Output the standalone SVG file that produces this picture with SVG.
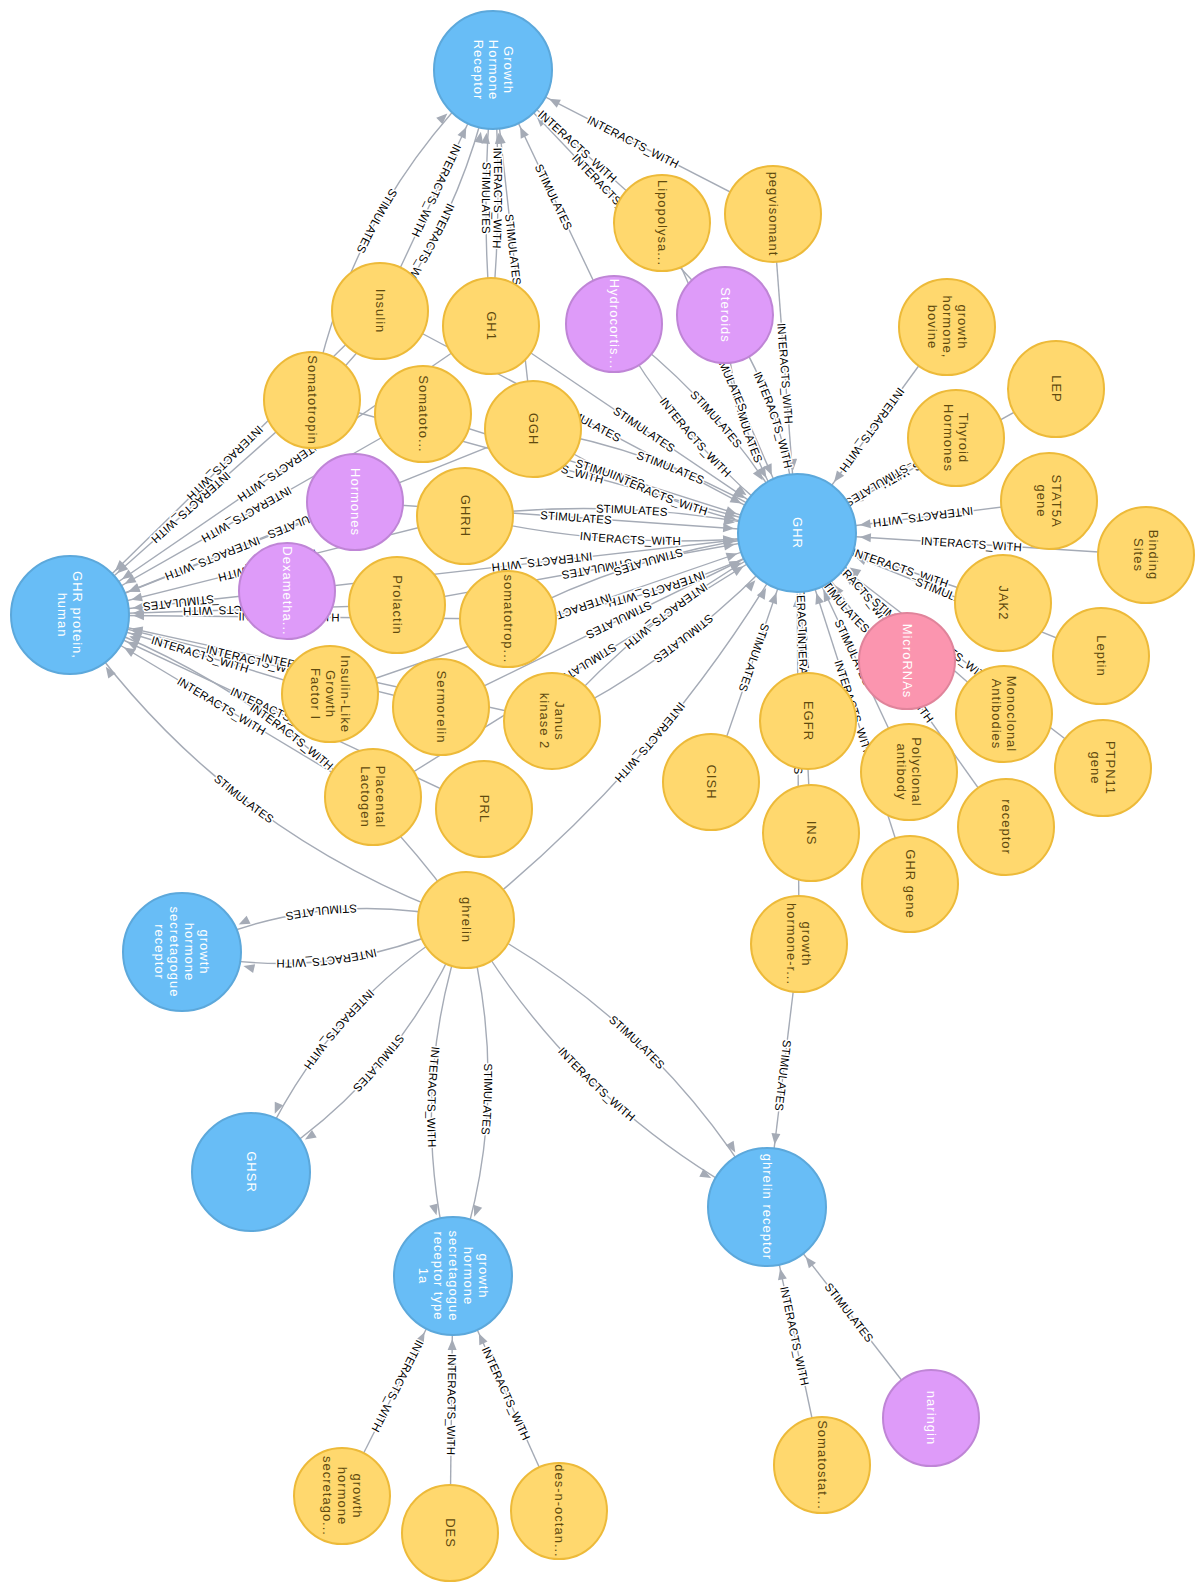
<svg xmlns="http://www.w3.org/2000/svg" width="1197" height="1582" viewBox="0 0 1197 1582">
<style>
.e{fill:none;stroke:#A5ABB6;stroke-width:1.4;marker-end:url(#arr)}
.l{font-family:"Liberation Sans",Arial,sans-serif;font-size:11.5px;fill:#000;stroke:#fff;stroke-width:3px;paint-order:stroke;stroke-linejoin:round;text-anchor:middle}
.n text{font-family:"Liberation Sans",Arial,sans-serif;font-size:13px;letter-spacing:1px;text-anchor:middle}
.b circle{fill:#68BDF6;stroke:#5CA8DB;stroke-width:2}
.b text{fill:#fff}
.y circle{fill:#FFD86E;stroke:#EDBA39;stroke-width:2}
.y text{fill:#604A0E}
.p circle{fill:#DE9BF9;stroke:#BF85D6;stroke-width:2}
.p text{fill:#fff}
.k circle{fill:#FB95AF;stroke:#E0849B;stroke-width:2}
.k text{fill:#fff}
</style>
<defs>
<marker id="arr" markerUnits="userSpaceOnUse" orient="auto" markerWidth="10" markerHeight="10" refX="0" refY="0" overflow="visible" style="overflow:visible"><path d="M-63 0 L-74 -4.5 L-74 4.5 Z" fill="#A5ABB6"/></marker>
<path id="r1" d="M493 70 Q350 206 312 400"/>
<path id="r2" d="M493 70 Q455 264 312 400"/>
<path id="r3" d="M493 70 L380 311"/>
<path id="r4" d="M493 70 Q480 198 491 326"/>
<path id="r5" d="M493 70 Q504 198 491 326"/>
<path id="r6" d="M493 70 L533 429"/>
<path id="r7" d="M493 70 L614 324"/>
<path id="r8" d="M493 70 L662 223"/>
<path id="r9" d="M493 70 L725 315"/>
<path id="r10" d="M493 70 L773 214"/>
<path id="r20" d="M70 615 L508 619"/>
<path id="r21" d="M70 615 L330 694"/>
<path id="r22" d="M70 615 L441 707"/>
<path id="r23" d="M70 615 L373 797"/>
<path id="r24" d="M70 615 L484 809"/>
<path id="r25" d="M70 615 Q219 831 466 920"/>
<path id="r26" d="M70 615 Q317 704 466 920"/>
<path id="r27" d="M70 615 L552 721"/>
<path id="r43" d="M797 533 L287 591"/>
<path id="r44" d="M797 533 L397 605"/>
<path id="r45" d="M797 533 Q644 547 508 619"/>
<path id="r46" d="M797 533 Q661 605 508 619"/>
<path id="r47" d="M797 533 L330 694"/>
<path id="r48" d="M797 533 L441 707"/>
<path id="r49" d="M797 533 Q656 603 552 721"/>
<path id="r50" d="M797 533 Q693 651 552 721"/>
<path id="r51" d="M797 533 Q670 759 466 920"/>
<path id="r52" d="M797 533 L711 782"/>
<path id="r53" d="M797 533 L373 797"/>
<path id="r58" d="M797 533 L1146 555"/>
<path id="r59" d="M797 533 L1003 603"/>
<path id="r60" d="M797 533 L1101 656"/>
<path id="r61" d="M797 533 Q870 581 907 661"/>
<path id="r62" d="M797 533 Q834 613 907 661"/>
<path id="r63" d="M797 533 L1004 714"/>
<path id="r64" d="M797 533 L1103 768"/>
<path id="r65" d="M797 533 L808 721"/>
<path id="r66" d="M797 533 L909 772"/>
<path id="r67" d="M797 533 L1006 827"/>
<path id="r68" d="M797 533 L910 884"/>
<path id="r69" d="M797 533 L811 833"/>
<path id="r70" d="M797 533 L799 944"/>
<path id="r80" d="M767 1207 L822 1465"/>
<path id="r81" d="M767 1207 L931 1418"/>
<path id="r82" d="M453 1276 L342 1496"/>
<path id="r83" d="M453 1276 L450 1533"/>
<path id="r84" d="M453 1276 L559 1511"/>
</defs>
<rect width="1197" height="1582" fill="#fff"/>
<g id="connectors">
<path id="e1" class="e" d="M312 400 Q350 206 493 70"/>
<path id="e2" class="e" d="M312 400 Q455 264 493 70"/>
<path id="e3" class="e" d="M380 311 L493 70"/>
<path id="e4" class="e" d="M491 326 Q480 198 493 70"/>
<path id="e5" class="e" d="M491 326 Q504 198 493 70"/>
<path id="e6" class="e" d="M533 429 L493 70"/>
<path id="e7" class="e" d="M614 324 L493 70"/>
<path id="e8" class="e" d="M662 223 L493 70"/>
<path id="e9" class="e" d="M725 315 L493 70"/>
<path id="e10" class="e" d="M773 214 L493 70"/>
<path id="e11" class="e" d="M380 311 L70 615"/>
<path id="e12" class="e" d="M312 400 L70 615"/>
<path id="e13" class="e" d="M491 326 L70 615"/>
<path id="e14" class="e" d="M423 414 L70 615"/>
<path id="e15" class="e" d="M533 429 L70 615"/>
<path id="e16" class="e" d="M355 502 L70 615"/>
<path id="e17" class="e" d="M465 516 L70 615"/>
<path id="e18" class="e" d="M287 591 L70 615"/>
<path id="e19" class="e" d="M397 605 L70 615"/>
<path id="e20" class="e" d="M508 619 L70 615"/>
<path id="e21" class="e" d="M330 694 L70 615"/>
<path id="e22" class="e" d="M441 707 L70 615"/>
<path id="e23" class="e" d="M373 797 L70 615"/>
<path id="e24" class="e" d="M484 809 L70 615"/>
<path id="e25" class="e" d="M466 920 Q219 831 70 615"/>
<path id="e26" class="e" d="M466 920 Q317 704 70 615"/>
<path id="e27" class="e" d="M552 721 L70 615"/>
<path id="e28" class="e" d="M380 311 L797 533"/>
<path id="e29" class="e" d="M312 400 L797 533"/>
<path id="e30" class="e" d="M491 326 L797 533"/>
<path id="e31" class="e" d="M614 324 Q683 448 797 533"/>
<path id="e32" class="e" d="M614 324 Q728 409 797 533"/>
<path id="e33" class="e" d="M725 315 Q732 433 797 533"/>
<path id="e34" class="e" d="M725 315 Q790 415 797 533"/>
<path id="e35" class="e" d="M662 223 L797 533"/>
<path id="e36" class="e" d="M773 214 L797 533"/>
<path id="e37" class="e" d="M423 414 L797 533"/>
<path id="e38" class="e" d="M533 429 Q654 509 797 533"/>
<path id="e39" class="e" d="M533 429 Q676 453 797 533"/>
<path id="e40" class="e" d="M355 502 L797 533"/>
<path id="e41" class="e" d="M465 516 Q632 495 797 533"/>
<path id="e42" class="e" d="M465 516 Q630 555 797 533"/>
<path id="e43" class="e" d="M287 591 L797 533"/>
<path id="e44" class="e" d="M397 605 L797 533"/>
<path id="e45" class="e" d="M508 619 Q644 547 797 533"/>
<path id="e46" class="e" d="M508 619 Q661 605 797 533"/>
<path id="e47" class="e" d="M330 694 L797 533"/>
<path id="e48" class="e" d="M441 707 L797 533"/>
<path id="e49" class="e" d="M552 721 Q656 603 797 533"/>
<path id="e50" class="e" d="M552 721 Q693 651 797 533"/>
<path id="e51" class="e" d="M466 920 Q670 759 797 533"/>
<path id="e52" class="e" d="M711 782 L797 533"/>
<path id="e53" class="e" d="M373 797 L797 533"/>
<path id="e54" class="e" d="M947 327 L797 533"/>
<path id="e55" class="e" d="M1056 389 L797 533"/>
<path id="e56" class="e" d="M956 438 L797 533"/>
<path id="e57" class="e" d="M1049 501 L797 533"/>
<path id="e58" class="e" d="M1146 555 L797 533"/>
<path id="e59" class="e" d="M1003 603 L797 533"/>
<path id="e60" class="e" d="M1101 656 L797 533"/>
<path id="e61" class="e" d="M907 661 Q870 581 797 533"/>
<path id="e62" class="e" d="M907 661 Q834 613 797 533"/>
<path id="e63" class="e" d="M1004 714 L797 533"/>
<path id="e64" class="e" d="M1103 768 L797 533"/>
<path id="e65" class="e" d="M808 721 L797 533"/>
<path id="e66" class="e" d="M909 772 L797 533"/>
<path id="e67" class="e" d="M1006 827 L797 533"/>
<path id="e68" class="e" d="M910 884 L797 533"/>
<path id="e69" class="e" d="M811 833 L797 533"/>
<path id="e70" class="e" d="M799 944 L797 533"/>
<path id="e71" class="e" d="M466 920 Q318 886 182 952"/>
<path id="e72" class="e" d="M466 920 Q330 986 182 952"/>
<path id="e73" class="e" d="M466 920 Q317 1010 251 1172"/>
<path id="e74" class="e" d="M466 920 Q400 1082 251 1172"/>
<path id="e75" class="e" d="M466 920 Q404 1096 453 1276"/>
<path id="e76" class="e" d="M466 920 Q516 1100 453 1276"/>
<path id="e77" class="e" d="M466 920 Q658 1020 767 1207"/>
<path id="e78" class="e" d="M466 920 Q575 1107 767 1207"/>
<path id="e79" class="e" d="M799 944 L767 1207"/>
<path id="e80" class="e" d="M822 1465 L767 1207"/>
<path id="e81" class="e" d="M931 1418 L767 1207"/>
<path id="e82" class="e" d="M342 1496 L453 1276"/>
<path id="e83" class="e" d="M450 1533 L453 1276"/>
<path id="e84" class="e" d="M559 1511 L453 1276"/>
<text class="l" dy="4"><textPath href="#r1" startOffset="50%">STIMULATES</textPath></text>
<text class="l" dy="4"><textPath href="#r2" startOffset="50%">INTERACTS_WITH</textPath></text>
<text class="l" dy="4"><textPath href="#r3" startOffset="50%">INTERACTS_WITH</textPath></text>
<text class="l" dy="4"><textPath href="#r4" startOffset="50%">STIMULATES</textPath></text>
<text class="l" dy="4"><textPath href="#r5" startOffset="50%">INTERACTS_WITH</textPath></text>
<text class="l" dy="4"><textPath href="#r6" startOffset="50%">STIMULATES</textPath></text>
<text class="l" dy="4"><textPath href="#r7" startOffset="50%">STIMULATES</textPath></text>
<text class="l" dy="4"><textPath href="#r8" startOffset="50%">INTERACTS_WITH</textPath></text>
<text class="l" dy="4"><textPath href="#r9" startOffset="50%">INTERACTS_WITH</textPath></text>
<text class="l" dy="4"><textPath href="#r10" startOffset="50%">INTERACTS_WITH</textPath></text>
<text class="l" dy="4"><textPath href="#e11" startOffset="50%">INTERACTS_WITH</textPath></text>
<text class="l" dy="4"><textPath href="#e12" startOffset="50%">INTERACTS_WITH</textPath></text>
<text class="l" dy="4"><textPath href="#e13" startOffset="50%">INTERACTS_WITH</textPath></text>
<text class="l" dy="4"><textPath href="#e14" startOffset="50%">INTERACTS_WITH</textPath></text>
<text class="l" dy="4"><textPath href="#e15" startOffset="50%">STIMULATES</textPath></text>
<text class="l" dy="4"><textPath href="#e16" startOffset="50%">INTERACTS_WITH</textPath></text>
<text class="l" dy="4"><textPath href="#e17" startOffset="50%">INTERACTS_WITH</textPath></text>
<text class="l" dy="4"><textPath href="#e18" startOffset="50%">STIMULATES</textPath></text>
<text class="l" dy="4"><textPath href="#e19" startOffset="50%">INTERACTS_WITH</textPath></text>
<text class="l" dy="4"><textPath href="#r20" startOffset="50%">INTERACTS_WITH</textPath></text>
<text class="l" dy="4"><textPath href="#r21" startOffset="50%">INTERACTS_WITH</textPath></text>
<text class="l" dy="4"><textPath href="#r22" startOffset="50%">INTERACTS_WITH</textPath></text>
<text class="l" dy="4"><textPath href="#r23" startOffset="50%">INTERACTS_WITH</textPath></text>
<text class="l" dy="4"><textPath href="#r24" startOffset="50%">INTERACTS_WITH</textPath></text>
<text class="l" dy="4"><textPath href="#r25" startOffset="50%">STIMULATES</textPath></text>
<text class="l" dy="4"><textPath href="#r26" startOffset="50%">INTERACTS_WITH</textPath></text>
<text class="l" dy="4"><textPath href="#r27" startOffset="50%">INTERACTS_WITH</textPath></text>
<text class="l" dy="4"><textPath href="#e28" startOffset="50%">STIMULATES</textPath></text>
<text class="l" dy="4"><textPath href="#e29" startOffset="50%">INTERACTS_WITH</textPath></text>
<text class="l" dy="4"><textPath href="#e30" startOffset="50%">STIMULATES</textPath></text>
<text class="l" dy="4"><textPath href="#e31" startOffset="50%">INTERACTS_WITH</textPath></text>
<text class="l" dy="4"><textPath href="#e32" startOffset="50%">STIMULATES</textPath></text>
<text class="l" dy="4"><textPath href="#e33" startOffset="50%">STIMULATES</textPath></text>
<text class="l" dy="4"><textPath href="#e34" startOffset="50%">INTERACTS_WITH</textPath></text>
<text class="l" dy="4"><textPath href="#e35" startOffset="50%">STIMULATES</textPath></text>
<text class="l" dy="4"><textPath href="#e36" startOffset="50%">INTERACTS_WITH</textPath></text>
<text class="l" dy="4"><textPath href="#e37" startOffset="50%">STIMULATES</textPath></text>
<text class="l" dy="4"><textPath href="#e38" startOffset="50%">INTERACTS_WITH</textPath></text>
<text class="l" dy="4"><textPath href="#e39" startOffset="50%">STIMULATES</textPath></text>
<text class="l" dy="4"><textPath href="#e40" startOffset="50%">STIMULATES</textPath></text>
<text class="l" dy="4"><textPath href="#e41" startOffset="50%">STIMULATES</textPath></text>
<text class="l" dy="4"><textPath href="#e42" startOffset="50%">INTERACTS_WITH</textPath></text>
<text class="l" dy="4"><textPath href="#r43" startOffset="50%">INTERACTS_WITH</textPath></text>
<text class="l" dy="4"><textPath href="#r44" startOffset="50%">STIMULATES</textPath></text>
<text class="l" dy="4"><textPath href="#r45" startOffset="50%">STIMULATES</textPath></text>
<text class="l" dy="4"><textPath href="#r46" startOffset="50%">INTERACTS_WITH</textPath></text>
<text class="l" dy="4"><textPath href="#r47" startOffset="50%">INTERACTS_WITH</textPath></text>
<text class="l" dy="4"><textPath href="#r48" startOffset="50%">STIMULATES</textPath></text>
<text class="l" dy="4"><textPath href="#r49" startOffset="50%">INTERACTS_WITH</textPath></text>
<text class="l" dy="4"><textPath href="#r50" startOffset="50%">STIMULATES</textPath></text>
<text class="l" dy="4"><textPath href="#r51" startOffset="50%">INTERACTS_WITH</textPath></text>
<text class="l" dy="4"><textPath href="#r52" startOffset="50%">STIMULATES</textPath></text>
<text class="l" dy="4"><textPath href="#r53" startOffset="50%">STIMULATES</textPath></text>
<text class="l" dy="4"><textPath href="#e54" startOffset="50%">INTERACTS_WITH</textPath></text>
<text class="l" dy="4"><textPath href="#e55" startOffset="50%">INTERACTS_WITH</textPath></text>
<text class="l" dy="4"><textPath href="#e56" startOffset="50%">STIMULATES</textPath></text>
<text class="l" dy="4"><textPath href="#e57" startOffset="50%">INTERACTS_WITH</textPath></text>
<text class="l" dy="4"><textPath href="#r58" startOffset="50%">INTERACTS_WITH</textPath></text>
<text class="l" dy="4"><textPath href="#r59" startOffset="50%">INTERACTS_WITH</textPath></text>
<text class="l" dy="4"><textPath href="#r60" startOffset="50%">STIMULATES</textPath></text>
<text class="l" dy="4"><textPath href="#r61" startOffset="50%">INTERACTS_WITH</textPath></text>
<text class="l" dy="4"><textPath href="#r62" startOffset="50%">STIMULATES</textPath></text>
<text class="l" dy="4"><textPath href="#r63" startOffset="50%">STIMULATES</textPath></text>
<text class="l" dy="4"><textPath href="#r64" startOffset="50%">INTERACTS_WITH</textPath></text>
<text class="l" dy="4"><textPath href="#r65" startOffset="50%">INTERACTS_WITH</textPath></text>
<text class="l" dy="4"><textPath href="#r66" startOffset="50%">STIMULATES</textPath></text>
<text class="l" dy="4"><textPath href="#r67" startOffset="50%">INTERACTS_WITH</textPath></text>
<text class="l" dy="4"><textPath href="#r68" startOffset="50%">INTERACTS_WITH</textPath></text>
<text class="l" dy="4"><textPath href="#r69" startOffset="50%">INTERACTS_WITH</textPath></text>
<text class="l" dy="4"><textPath href="#r70" startOffset="50%">STIMULATES</textPath></text>
<text class="l" dy="4"><textPath href="#e71" startOffset="50%">STIMULATES</textPath></text>
<text class="l" dy="4"><textPath href="#e72" startOffset="50%">INTERACTS_WITH</textPath></text>
<text class="l" dy="4"><textPath href="#e73" startOffset="50%">INTERACTS_WITH</textPath></text>
<text class="l" dy="4"><textPath href="#e74" startOffset="50%">STIMULATES</textPath></text>
<text class="l" dy="4"><textPath href="#e75" startOffset="50%">INTERACTS_WITH</textPath></text>
<text class="l" dy="4"><textPath href="#e76" startOffset="50%">STIMULATES</textPath></text>
<text class="l" dy="4"><textPath href="#e77" startOffset="50%">STIMULATES</textPath></text>
<text class="l" dy="4"><textPath href="#e78" startOffset="50%">INTERACTS_WITH</textPath></text>
<text class="l" dy="4"><textPath href="#e79" startOffset="50%">STIMULATES</textPath></text>
<text class="l" dy="4"><textPath href="#r80" startOffset="50%">INTERACTS_WITH</textPath></text>
<text class="l" dy="4"><textPath href="#r81" startOffset="50%">STIMULATES</textPath></text>
<text class="l" dy="4"><textPath href="#r82" startOffset="50%">INTERACTS_WITH</textPath></text>
<text class="l" dy="4"><textPath href="#r83" startOffset="50%">INTERACTS_WITH</textPath></text>
<text class="l" dy="4"><textPath href="#r84" startOffset="50%">INTERACTS_WITH</textPath></text>
</g>
<g id="nodes">
<g id="n-growth-hormone-receptor" class="n b"><circle cx="493" cy="70" r="59"/><text transform="rotate(90 493 70)"><tspan x="493" y="59.5">Growth</tspan><tspan x="493" y="74.5">Hormone</tspan><tspan x="493" y="89.5">Receptor</tspan></text></g>
<g id="n-ghr" class="n b"><circle cx="797" cy="533" r="59"/><text transform="rotate(90 797 533)"><tspan x="797" y="537.5">GHR</tspan></text></g>
<g id="n-ghr-protein-human" class="n b"><circle cx="70" cy="615" r="59"/><text transform="rotate(90 70 615)"><tspan x="70" y="612">GHR protein,</tspan><tspan x="70" y="627">human</tspan></text></g>
<g id="n-ghs-receptor" class="n b"><circle cx="182" cy="952" r="59"/><text transform="rotate(90 182 952)"><tspan x="182" y="934">growth</tspan><tspan x="182" y="949">hormone</tspan><tspan x="182" y="964">secretagogue</tspan><tspan x="182" y="979">receptor</tspan></text></g>
<g id="n-ghsr" class="n b"><circle cx="251" cy="1172" r="59"/><text transform="rotate(90 251 1172)"><tspan x="251" y="1176.5">GHSR</tspan></text></g>
<g id="n-ghsr-1a" class="n b"><circle cx="453" cy="1276" r="59"/><text transform="rotate(90 453 1276)"><tspan x="453" y="1250.5">growth</tspan><tspan x="453" y="1265.5">hormone</tspan><tspan x="453" y="1280.5">secretagogue</tspan><tspan x="453" y="1295.5">receptor type</tspan><tspan x="453" y="1310.5">1a</tspan></text></g>
<g id="n-ghrelin-receptor" class="n b"><circle cx="767" cy="1207" r="59"/><text transform="rotate(90 767 1207)"><tspan x="767" y="1211.5">ghrelin receptor</tspan></text></g>
<g id="n-insulin" class="n y"><circle cx="380" cy="311" r="48"/><text transform="rotate(90 380 311)"><tspan x="380" y="315.5">Insulin</tspan></text></g>
<g id="n-somatotropin" class="n y"><circle cx="312" cy="400" r="48"/><text transform="rotate(90 312 400)"><tspan x="312" y="404.5">Somatotropin</tspan></text></g>
<g id="n-gh1" class="n y"><circle cx="491" cy="326" r="48"/><text transform="rotate(90 491 326)"><tspan x="491" y="330.5">GH1</tspan></text></g>
<g id="n-lipopolysa" class="n y"><circle cx="662" cy="223" r="48"/><text transform="rotate(90 662 223)"><tspan x="662" y="227.5">Lipopolysa...</tspan></text></g>
<g id="n-pegvisomant" class="n y"><circle cx="773" cy="214" r="48"/><text transform="rotate(90 773 214)"><tspan x="773" y="218.5">pegvisomant</tspan></text></g>
<g id="n-gh-bovine" class="n y"><circle cx="947" cy="327" r="48"/><text transform="rotate(90 947 327)"><tspan x="947" y="316.5">growth</tspan><tspan x="947" y="331.5">hormone,</tspan><tspan x="947" y="346.5">bovine</tspan></text></g>
<g id="n-lep" class="n y"><circle cx="1056" cy="389" r="48"/><text transform="rotate(90 1056 389)"><tspan x="1056" y="393.5">LEP</tspan></text></g>
<g id="n-thyroid" class="n y"><circle cx="956" cy="438" r="48"/><text transform="rotate(90 956 438)"><tspan x="956" y="435">Thyroid</tspan><tspan x="956" y="450">Hormones</tspan></text></g>
<g id="n-stat5a" class="n y"><circle cx="1049" cy="501" r="48"/><text transform="rotate(90 1049 501)"><tspan x="1049" y="498">STAT5A</tspan><tspan x="1049" y="513">gene</tspan></text></g>
<g id="n-binding-sites" class="n y"><circle cx="1146" cy="555" r="48"/><text transform="rotate(90 1146 555)"><tspan x="1146" y="552">Binding</tspan><tspan x="1146" y="567">Sites</tspan></text></g>
<g id="n-jak2" class="n y"><circle cx="1003" cy="603" r="48"/><text transform="rotate(90 1003 603)"><tspan x="1003" y="607.5">JAK2</tspan></text></g>
<g id="n-leptin" class="n y"><circle cx="1101" cy="656" r="48"/><text transform="rotate(90 1101 656)"><tspan x="1101" y="660.5">Leptin</tspan></text></g>
<g id="n-monoclonal" class="n y"><circle cx="1004" cy="714" r="48"/><text transform="rotate(90 1004 714)"><tspan x="1004" y="711">Monoclonal</tspan><tspan x="1004" y="726">Antibodies</tspan></text></g>
<g id="n-ptpn11" class="n y"><circle cx="1103" cy="768" r="48"/><text transform="rotate(90 1103 768)"><tspan x="1103" y="765">PTPN11</tspan><tspan x="1103" y="780">gene</tspan></text></g>
<g id="n-egfr" class="n y"><circle cx="808" cy="721" r="48"/><text transform="rotate(90 808 721)"><tspan x="808" y="725.5">EGFR</tspan></text></g>
<g id="n-polyclonal" class="n y"><circle cx="909" cy="772" r="48"/><text transform="rotate(90 909 772)"><tspan x="909" y="769">Polyclonal</tspan><tspan x="909" y="784">antibody</tspan></text></g>
<g id="n-receptor" class="n y"><circle cx="1006" cy="827" r="48"/><text transform="rotate(90 1006 827)"><tspan x="1006" y="831.5">receptor</tspan></text></g>
<g id="n-ghr-gene" class="n y"><circle cx="910" cy="884" r="48"/><text transform="rotate(90 910 884)"><tspan x="910" y="888.5">GHR gene</tspan></text></g>
<g id="n-ins" class="n y"><circle cx="811" cy="833" r="48"/><text transform="rotate(90 811 833)"><tspan x="811" y="837.5">INS</tspan></text></g>
<g id="n-gh-r" class="n y"><circle cx="799" cy="944" r="48"/><text transform="rotate(90 799 944)"><tspan x="799" y="941">growth</tspan><tspan x="799" y="956">hormone-r...</tspan></text></g>
<g id="n-cish" class="n y"><circle cx="711" cy="782" r="48"/><text transform="rotate(90 711 782)"><tspan x="711" y="786.5">CISH</tspan></text></g>
<g id="n-janus" class="n y"><circle cx="552" cy="721" r="48"/><text transform="rotate(90 552 721)"><tspan x="552" y="718">Janus</tspan><tspan x="552" y="733">kinase 2</tspan></text></g>
<g id="n-sermorelin" class="n y"><circle cx="441" cy="707" r="48"/><text transform="rotate(90 441 707)"><tspan x="441" y="711.5">Sermorelin</tspan></text></g>
<g id="n-somatotrop" class="n y"><circle cx="508" cy="619" r="48"/><text transform="rotate(90 508 619)"><tspan x="508" y="623.5">somatotrop...</tspan></text></g>
<g id="n-ghrh" class="n y"><circle cx="465" cy="516" r="48"/><text transform="rotate(90 465 516)"><tspan x="465" y="520.5">GHRH</tspan></text></g>
<g id="n-ggh" class="n y"><circle cx="533" cy="429" r="48"/><text transform="rotate(90 533 429)"><tspan x="533" y="433.5">GGH</tspan></text></g>
<g id="n-somatoto" class="n y"><circle cx="423" cy="414" r="48"/><text transform="rotate(90 423 414)"><tspan x="423" y="418.5">Somatoto...</tspan></text></g>
<g id="n-prolactin" class="n y"><circle cx="397" cy="605" r="48"/><text transform="rotate(90 397 605)"><tspan x="397" y="609.5">Prolactin</tspan></text></g>
<g id="n-igf1" class="n y"><circle cx="330" cy="694" r="48"/><text transform="rotate(90 330 694)"><tspan x="330" y="683.5">Insulin-Like</tspan><tspan x="330" y="698.5">Growth</tspan><tspan x="330" y="713.5">Factor I</tspan></text></g>
<g id="n-placental" class="n y"><circle cx="373" cy="797" r="48"/><text transform="rotate(90 373 797)"><tspan x="373" y="794">Placental</tspan><tspan x="373" y="809">Lactogen</tspan></text></g>
<g id="n-prl" class="n y"><circle cx="484" cy="809" r="48"/><text transform="rotate(90 484 809)"><tspan x="484" y="813.5">PRL</tspan></text></g>
<g id="n-ghrelin" class="n y"><circle cx="466" cy="920" r="48"/><text transform="rotate(90 466 920)"><tspan x="466" y="924.5">ghrelin</tspan></text></g>
<g id="n-ghs-yellow" class="n y"><circle cx="342" cy="1496" r="48"/><text transform="rotate(90 342 1496)"><tspan x="342" y="1485.5">growth</tspan><tspan x="342" y="1500.5">hormone</tspan><tspan x="342" y="1515.5">secretago...</tspan></text></g>
<g id="n-des" class="n y"><circle cx="450" cy="1533" r="48"/><text transform="rotate(90 450 1533)"><tspan x="450" y="1537.5">DES</tspan></text></g>
<g id="n-des-n-octan" class="n y"><circle cx="559" cy="1511" r="48"/><text transform="rotate(90 559 1511)"><tspan x="559" y="1515.5">des-n-octan...</tspan></text></g>
<g id="n-somatostat" class="n y"><circle cx="822" cy="1465" r="48"/><text transform="rotate(90 822 1465)"><tspan x="822" y="1469.5">Somatostat...</tspan></text></g>
<g id="n-hydrocortis" class="n p"><circle cx="614" cy="324" r="48"/><text transform="rotate(90 614 324)"><tspan x="614" y="328.5">Hydrocortis...</tspan></text></g>
<g id="n-steroids" class="n p"><circle cx="725" cy="315" r="48"/><text transform="rotate(90 725 315)"><tspan x="725" y="319.5">Steroids</tspan></text></g>
<g id="n-hormones" class="n p"><circle cx="355" cy="502" r="48"/><text transform="rotate(90 355 502)"><tspan x="355" y="506.5">Hormones</tspan></text></g>
<g id="n-dexametha" class="n p"><circle cx="287" cy="591" r="48"/><text transform="rotate(90 287 591)"><tspan x="287" y="595.5">Dexametha...</tspan></text></g>
<g id="n-naringin" class="n p"><circle cx="931" cy="1418" r="48"/><text transform="rotate(90 931 1418)"><tspan x="931" y="1422.5">naringin</tspan></text></g>
<g id="n-micrornas" class="n k"><circle cx="907" cy="661" r="48"/><text transform="rotate(90 907 661)"><tspan x="907" y="665.5">MicroRNAs</tspan></text></g>
</g>
</svg>
